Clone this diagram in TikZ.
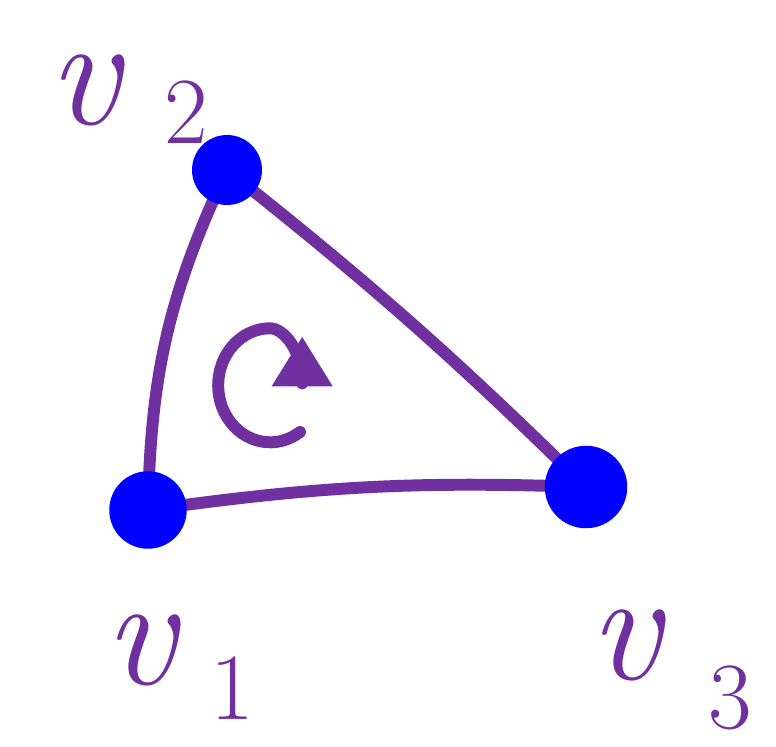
\documentclass[tikz,border=0pt]{standalone}
\usepackage{fontspec}
\usetikzlibrary{arrows.meta, backgrounds}
\definecolor{penpurple}{HTML}{7030A0}
\definecolor{dotblue}{HTML}{0000FF}

\begin{document}
\begin{tikzpicture}[
    x=0.02cm, y=0.02cm,
    line cap=round, line join=round,
    vdot/.style={
        circle, fill=dotblue, inner sep=0pt, minimum size=1.5cm,
    },
    edge/.style={draw=penpurple, line width=6.8pt},
    vlabel/.style={
        text=penpurple, inner sep=0pt,
        font=\fontsize{90}{90}\selectfont\itshape,
    },
    vsub/.style={
        text=penpurple, inner sep=0pt,
        font=\fontsize{54}{54}\selectfont,
    },
]
\useasboundingbox (0,0) rectangle (776,-746);

% vertices of the triangle
\node[vdot, minimum size=1.4cm] (v2) at (227,-170) {};
\node[vdot, minimum size=1.55cm] (v1) at (148,-510) {};
\node[vdot, minimum size=1.65cm] (v3) at (586,-487) {};

% edges, kept behind the dots
\begin{scope}[on background layer]
\draw[edge] (v2.center) to[bend right=12] (v1.center);
\draw[edge] (v2.center) to[bend left=3] (v3.center);
\draw[edge] (v1.center) to[bend left=5] (v3.center);
\end{scope}

% orientation arrow
\coordinate (turn) at (300,-432);
\draw[edge, -{Triangle[length=1cm, width=1.15cm]}]
    (turn) arc[start angle=-55, end angle=-270, x radius=52, y radius=57]
    to[out=0, in=270] ++(32,-8);

% labels
\node[vlabel] (l2) at (84,-90) {v};
\node[vsub] (s2) at (186,-112) {2};
\node[vlabel] (l1) at (140,-650) {v};
\node[vsub] (s1) at (232,-688) {1};
\node[vlabel] (l3) at (625,-645) {v};
\node[vsub] (s3) at (730,-698) {3};

\end{tikzpicture}
\end{document}
